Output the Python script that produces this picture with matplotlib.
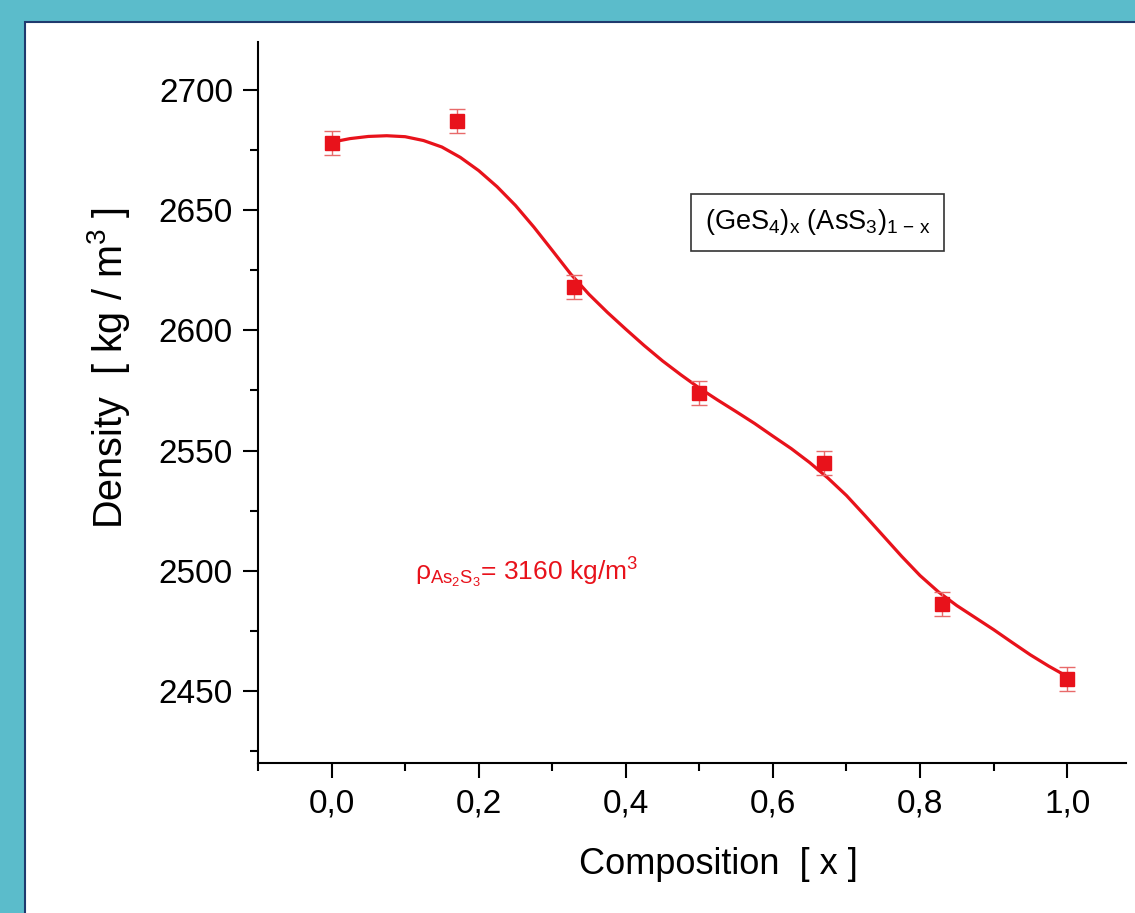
import numpy as np
import matplotlib
matplotlib.use("Agg")
import matplotlib.pyplot as plt
from matplotlib.patches import Rectangle

# measured points
composition = [0.0, 0.17, 0.33, 0.50, 0.67, 0.83, 1.0]
density = [2678, 2687, 2618, 2574, 2545, 2486, 2455]
density_err = [5, 5, 5, 5, 5, 5, 5]

# fitted curve
fit_x = [0.000, 0.025, 0.050, 0.075, 0.100, 0.125, 0.150, 0.175, 0.200,
         0.225, 0.250, 0.275, 0.300, 0.325, 0.350, 0.375, 0.400, 0.425,
         0.450, 0.475, 0.500, 0.525, 0.550, 0.575, 0.600, 0.625, 0.650,
         0.675, 0.700, 0.725, 0.750, 0.775, 0.800, 0.825, 0.850, 0.875,
         0.900, 0.925, 0.950, 0.975, 1.000]
fit_y = [2678.3, 2679.8, 2680.7, 2681.0, 2680.6, 2679.0, 2676.3, 2672.0,
         2666.5, 2659.8, 2652.0, 2643.0, 2633.3, 2623.5, 2615.0, 2607.5,
         2600.5, 2593.7, 2587.3, 2581.5, 2576.0, 2571.0, 2566.2, 2561.3,
         2556.0, 2550.8, 2545.0, 2538.5, 2531.3, 2523.0, 2514.5, 2506.0,
         2498.0, 2491.2, 2485.5, 2480.5, 2475.5, 2470.2, 2465.0, 2460.3,
         2456.0]

x_ticks = [0.0, 0.2, 0.4, 0.6, 0.8, 1.0]
x_labels = ["0,0", "0,2", "0,4", "0,6", "0,8", "1,0"]
y_ticks = [2450, 2500, 2550, 2600, 2650, 2700]

plt.rcParams['font.family'] = ['Liberation Sans', 'DejaVu Sans']
plt.rcParams['mathtext.fontset'] = 'custom'
plt.rcParams['mathtext.rm'] = 'Liberation Sans'
plt.rcParams['mathtext.it'] = 'Liberation Sans'
plt.rcParams['mathtext.bf'] = 'Liberation Sans:bold'

red = '#E8121B'

fig = plt.figure(figsize=(11.35, 9.13), dpi=100, facecolor='#5BBCCB')
fig.patches.append(Rectangle((25/1135, -0.02), 1.0, 1 - 22/913 + 0.02,
                             transform=fig.transFigure, facecolor='white',
                             edgecolor='#1F3A6E', linewidth=1.5, zorder=-10))

ax = fig.add_axes([258/1135, 1 - 763/913, (1126 - 258)/1135, (763 - 42)/913])
ax.set_facecolor('none')
ax.set_zorder(5)

ax.plot(fit_x, fit_y, color=red, lw=2.3, zorder=2, solid_joinstyle='round')
ax.errorbar(composition, density, yerr=density_err, fmt='s', color=red,
            ms=9.5, ecolor='#E86A6A', elinewidth=1, capsize=6, capthick=1,
            zorder=3)

ax.set_xlim(-0.1, 1.08)
ax.set_ylim(2420, 2720)
ax.set_xticks(x_ticks)
ax.set_xticklabels(x_labels)
ax.set_xticks(np.arange(-0.1, 1.08, 0.1), minor=True)
ax.set_yticks(y_ticks)
ax.set_yticks(np.arange(2425, 2720, 25), minor=True)

for s in ['top', 'right']:
    ax.spines[s].set_visible(False)
for s in ['left', 'bottom']:
    ax.spines[s].set_linewidth(1.5)

ax.tick_params(which='major', direction='out', length=11, width=1.5,
               labelsize=24, pad=7)
ax.tick_params(which='minor', direction='out', length=6, width=1.5)

ax.set_xlabel('Composition  [ x ]', fontsize=26)
ax.xaxis.set_label_coords(0.531, -0.117)
ax.set_ylabel('Density  [ kg / m$^3$ ]', fontsize=28.5)
ax.yaxis.set_label_coords(-0.145, 0.548)

ax.text(0.661, 2645, r'(GeS$_4$)$_x$ (AsS$_3$)$_{1\,-\,x}$', fontsize=19.5,
        ha='center', va='center',
        bbox=dict(boxstyle='square,pad=0.5', facecolor='white',
                  edgecolor='#333333', linewidth=1.2))

ax.text(0.113, 2496, r'ρ$_{\mathrm{As_2S_3}}$= 3160 kg/m$^3$', fontsize=19,
        color=red, ha='left', va='baseline')

fig.savefig('out.png', dpi=100, facecolor=fig.get_facecolor())
